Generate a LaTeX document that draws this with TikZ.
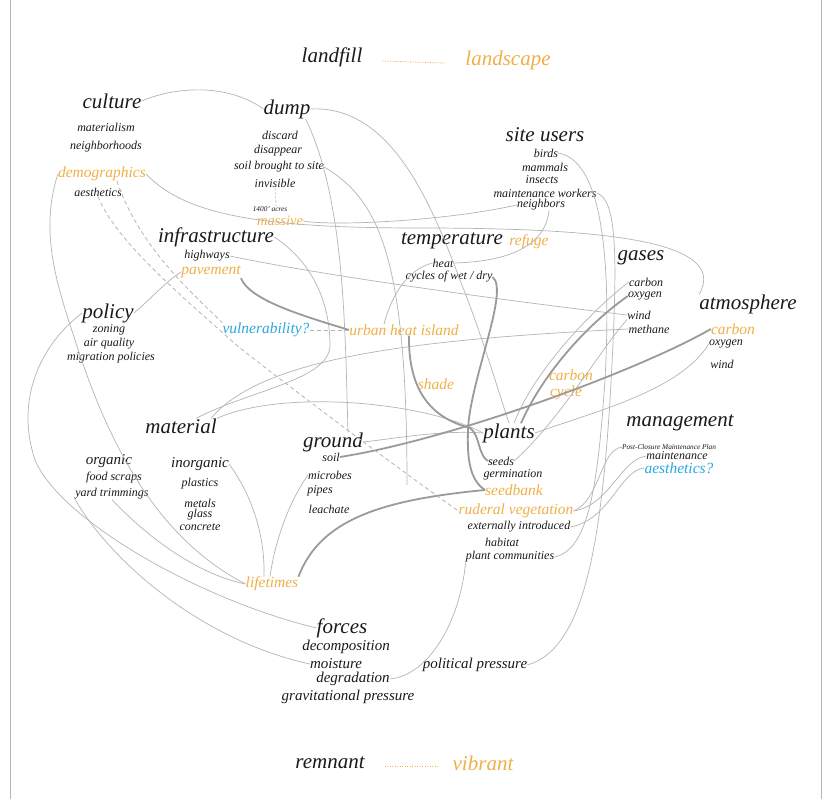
\documentclass[tikz,border=0pt]{standalone}
\usepackage{fontspec}
\setmainfont{Liberation Serif}
\definecolor{ink}{HTML}{1A1A1A}
\definecolor{orng}{HTML}{F0B048}
\definecolor{blu}{HTML}{2AA8E0}
\definecolor{lgr}{HTML}{B4B4B4}
\definecolor{dgr}{HTML}{9A9A9A}
\begin{document}
\begin{tikzpicture}[x=1pt,y=-1pt,
  big/.style={font=\fontsize{21}{21}\selectfont\itshape,text=ink,inner sep=0pt},
  mid/.style={font=\fontsize{15}{15}\selectfont\itshape,text=ink,inner sep=0pt},
  sm/.style={font=\fontsize{12}{12}\selectfont\itshape,text=ink,inner sep=0pt},
  tny/.style={font=\fontsize{7.3}{7.3}\selectfont\itshape,text=ink,inner sep=0pt},
  org/.style={font=\fontsize{15.5}{15.5}\selectfont\itshape,text=orng,inner sep=0pt},
  blue/.style={font=\fontsize{15.5}{15.5}\selectfont\itshape,text=blu,inner sep=0pt},
  ln/.style={draw=lgr,line width=0.7pt},
  thk/.style={draw=dgr,line width=1.8pt},
  dsh/.style={draw=lgr,line width=0.8pt,dash pattern=on 4pt off 3pt},
  dot/.style={draw=orng,line width=0.8pt,dash pattern=on 1pt off 1.5pt}]
\useasboundingbox (0,0) rectangle (823,799);
\fill[white] (0,0) rectangle (823,799);
\draw[lgr,line width=0.8pt] (10,0) -- (10,799);
\draw[lgr,line width=0.8pt] (821,0) -- (821,799);
% ---- nodes ----
\node[big] (landfill) at (332,57) {landfill};
\node[big,text=orng] (landscape) at (508,60) {landscape};
\node[big] (culture) at (112,101) {culture};
\node[sm] (materialism) at (106,127) {materialism};
\node[sm] (neighborhoods) at (106,147) {neighborhoods};
\node[org] (demographics) at (102,174) {demographics};
\node[sm] (aesthetics) at (98,192) {aesthetics};
\node[big] (dump) at (287,109) {dump};
\node[sm] (discard) at (280,135) {discard};
\node[sm] (disappear) at (278,151) {disappear};
\node[sm] (soilbrought) at (279,167) {soil brought to site};
\node[sm] (invisible) at (275,183) {invisible};
\node[tny] (acres) at (270,209) {1400' acres};
\node[org,font=\fontsize{14.5}{14.5}\selectfont\itshape] (massive) at (280,221) {massive};
\node[big] (siteusers) at (545,135) {site users};
\node[sm] (birds) at (546,153) {birds};
\node[sm] (mammals) at (545,167) {mammals};
\node[sm] (insects) at (542,180) {insects};
\node[sm] (maintworkers) at (545,193) {maintenance workers};
\node[sm] (neighbors) at (541,205) {neighbors};
\node[big] (infrastructure) at (216,237) {infrastructure};
\node[sm] (highways) at (207,256) {highways};
\node[org] (pavement) at (211,272) {pavement};
\node[big] (temperature) at (452,241) {temperature};
\node[org] (refuge) at (529,242) {refuge};
\node[sm] (heat) at (443,263) {heat};
\node[sm] (cycles) at (449,277) {cycles of wet / dry};
\node[big] (gases) at (641,258) {gases};
\node[sm] (gcarbon) at (646,282) {carbon};
\node[sm] (goxygen) at (645,296) {oxygen};
\node[sm] (gwind) at (639,315) {wind};
\node[sm] (gmethane) at (649,329) {methane};
\node[big] (atmosphere) at (748,304) {atmosphere};
\node[org] (acarbon) at (733,329) {carbon};
\node[sm] (aoxygen) at (726,344) {oxygen};
\node[sm] (awind) at (722,364) {wind};
\node[big] (policy) at (108,313) {policy};
\node[sm] (zoning) at (109,330) {zoning};
\node[sm] (airquality) at (109,344) {air quality};
\node[sm] (migration) at (111,358) {migration policies};
\node[blue] (vulnerability) at (266,330) {vulnerability?};
\node[org] (uhi) at (404,330) {urban heat island};
\node[org] (shade) at (436,384) {shade};
\node[org] (ccarbon) at (571,375) {carbon};
\node[org] (ccycle) at (566,393) {cycle};
\node[big] (material) at (181,426) {material};
\node[big] (ground) at (333,442) {ground};
\node[sm] (soil) at (331,457) {soil};
\node[sm] (microbes) at (330,475) {microbes};
\node[sm] (pipes) at (320,491) {pipes};
\node[sm] (leachate) at (329,509) {leachate};
\node[big] (plants) at (509,433) {plants};
\node[sm] (seeds) at (501,461) {seeds};
\node[sm] (germination) at (513,475) {germination};
\node[org] (seedbank) at (514,490) {seedbank};
\node[org] (ruderal) at (516,511) {ruderal vegetation};
\node[sm] (externally) at (519,527) {externally introduced};
\node[sm] (habitat) at (502,542) {habitat};
\node[sm] (plantcomm) at (510,557) {plant communities};
\node[big] (management) at (680,423) {management};
\node[tny] (postclosure) at (669,447) {Post-Closure Maintenance Plan};
\node[sm] (maintenance) at (677,456) {maintenance};
\node[blue] (aesthq) at (679,468) {aesthetics?};
\node[mid] (organic) at (109,461) {organic};
\node[sm] (foodscraps) at (114,478) {food scraps};
\node[sm] (yardtrim) at (112,494) {yard trimmings};
\node[mid] (inorganic) at (200,464) {inorganic};
\node[sm] (plastics) at (200,484) {plastics};
\node[sm] (metals) at (200,503) {metals};
\node[sm] (glass) at (200,515) {glass};
\node[sm] (concrete) at (200,527) {concrete};
\node[org] (lifetimes) at (272,584) {lifetimes};
\node[big] (forces) at (342,628) {forces};
\node[mid] (decomposition) at (346,647) {decomposition};
\node[mid] (moisture) at (336,664) {moisture};
\node[mid] (degradation) at (353,679) {degradation};
\node[mid] (gravitational) at (348,697) {gravitational pressure};
\node[mid] (political) at (475,665) {political pressure};
\node[big] (remnant) at (330,763) {remnant};
\node[big,text=orng] (vibrant) at (483,763) {vibrant};
% ---- dotted orange ----
\draw[dot] ([xshift=20pt,yshift=-4pt]landfill.east) -- ([xshift=-20pt,yshift=-3pt]landscape.west);
\draw[dot] ([xshift=20pt,yshift=-3pt]remnant.east) -- ([xshift=-15pt,yshift=-3pt]vibrant.west);
\draw[dsh,dash pattern=on 2pt off 2pt,line width=0.6pt] ([yshift=3pt]invisible.south) -- ([xshift=6pt,yshift=-1pt]acres.north);
% ---- thin connectors ----
\draw[ln] (culture.east) .. controls (180,85) and (230,85) .. (dump.west);
\draw[ln] (demographics.east) .. controls (185,215) and (260,228) .. (420,228) .. controls (600,228) and (730,240) .. (atmosphere.north west);
\draw[ln] (neighbors.west) .. controls (440,222) and (330,226) .. (massive.east);
\draw[ln] (dump.east) .. controls (390,105) and (430,200) .. (460,280) .. controls (480,330) and (495,380) .. (plants.north);
\draw[ln] ([xshift=-5pt]dump.south east) .. controls (345,200) and (345,330) .. ([xshift=15pt]ground.north);
\draw[ln] (soilbrought.east) .. controls (380,200) and (407,260) .. (407,485);
\draw[ln] (birds.east) .. controls (600,160) and (612,250) .. (605,380) .. controls (598,480) and (590,550) .. (plantcomm.east);
\draw[ln] (maintworkers.east) .. controls (618,200) and (618,260) .. (610,400) .. controls (600,560) and (580,650) .. (political.east);
\draw[ln] ([xshift=8pt]neighbors.south) .. controls (545,250) and (500,262) .. (heat.east);
\draw[ln] (heat.west) .. controls (405,270) and (390,300) .. ([xshift=-20pt]uhi.north);
\draw[ln] (highways.east) .. controls (320,275) and (500,300) .. (gwind.west);
\draw[ln] (infrastructure.east) .. controls (310,260) and (330,300) .. (330,345) .. controls (330,380) and (250,390) .. ([xshift=15pt]material.north);
\draw[ln] (pavement.west) .. controls (165,282) and (150,300) .. (policy.east);
\draw[ln] (policy.west) .. controls (40,345) and (15,400) .. (35,460) .. controls (60,520) and (200,600) .. (forces.west);
\draw[ln] (demographics.west) .. controls (40,230) and (55,280) .. (75,340) .. controls (110,450) and (160,540) .. (lifetimes.west);
\draw[ln] ([xshift=30pt]material.north) .. controls (260,360) and (400,340) .. (gmethane.west);
\draw[ln] (material.north east) .. controls (280,390) and (420,400) .. (plants.west);
\draw[ln] (ground.east) .. controls (400,438) and (440,430) .. (plants.west);
\draw[ln] (gcarbon.west) .. controls (580,320) and (530,380) .. ([xshift=5pt]plants.north);
\draw[ln] (plants.east) .. controls (600,410) and (680,390) .. (aoxygen.west);
\draw[ln] (seeds.east) .. controls (560,420) and (600,350) .. (gwind.south west);
\draw[ln] (ruderal.east) .. controls (600,500) and (600,450) .. (postclosure.west);
\draw[ln] (ruderal.east) .. controls (610,505) and (620,460) .. (maintenance.west);
\draw[ln] (externally.east) .. controls (610,520) and (620,470) .. (aesthq.west);
\draw[ln] (microbes.west) .. controls (290,500) and (275,540) .. ([xshift=-2pt]lifetimes.north);
\draw[ln] (inorganic.east) .. controls (255,500) and (265,540) .. ([xshift=-8pt]lifetimes.north);
\draw[ln] (yardtrim.south west) .. controls (110,560) and (200,640) .. (moisture.west);
\draw[ln] (yardtrim.south) .. controls (150,540) and (200,575) .. (lifetimes.west);
\draw[ln] (degradation.east) .. controls (430,675) and (460,620) .. (plantcomm.south west);
% ---- thick connectors ----
\draw[thk] (pavement.south east) .. controls (250,300) and (300,315) .. (uhi.west);
\draw[thk] (cycles.east) .. controls (510,290) and (470,380) .. (468,430) .. controls (467,460) and (470,480) .. (seedbank.west);
\draw[thk] ([xshift=5pt]uhi.south) .. controls (408,400) and (440,420) .. (470,428) .. controls (480,435) and (478,455) .. (seeds.west);
\draw[thk] (soil.east) .. controls (450,440) and (640,370) .. (acarbon.west);
\draw[thk] (goxygen.west) .. controls (580,330) and (540,380) .. ([xshift=12pt]plants.north);
\draw[thk] (seedbank.west) .. controls (380,500) and (320,520) .. (lifetimes.north east);
% ---- dashed ----
\draw[dsh] ([xshift=15pt]demographics.south) .. controls (140,250) and (200,300) .. (vulnerability.north west);
\draw[dsh] (vulnerability.east) -- (uhi.west);
\draw[dsh] (aesthetics.south) .. controls (115,240) and (180,295) .. (240,348) .. controls (300,395) and (400,470) .. (ruderal.west);
\end{tikzpicture}
\end{document}
